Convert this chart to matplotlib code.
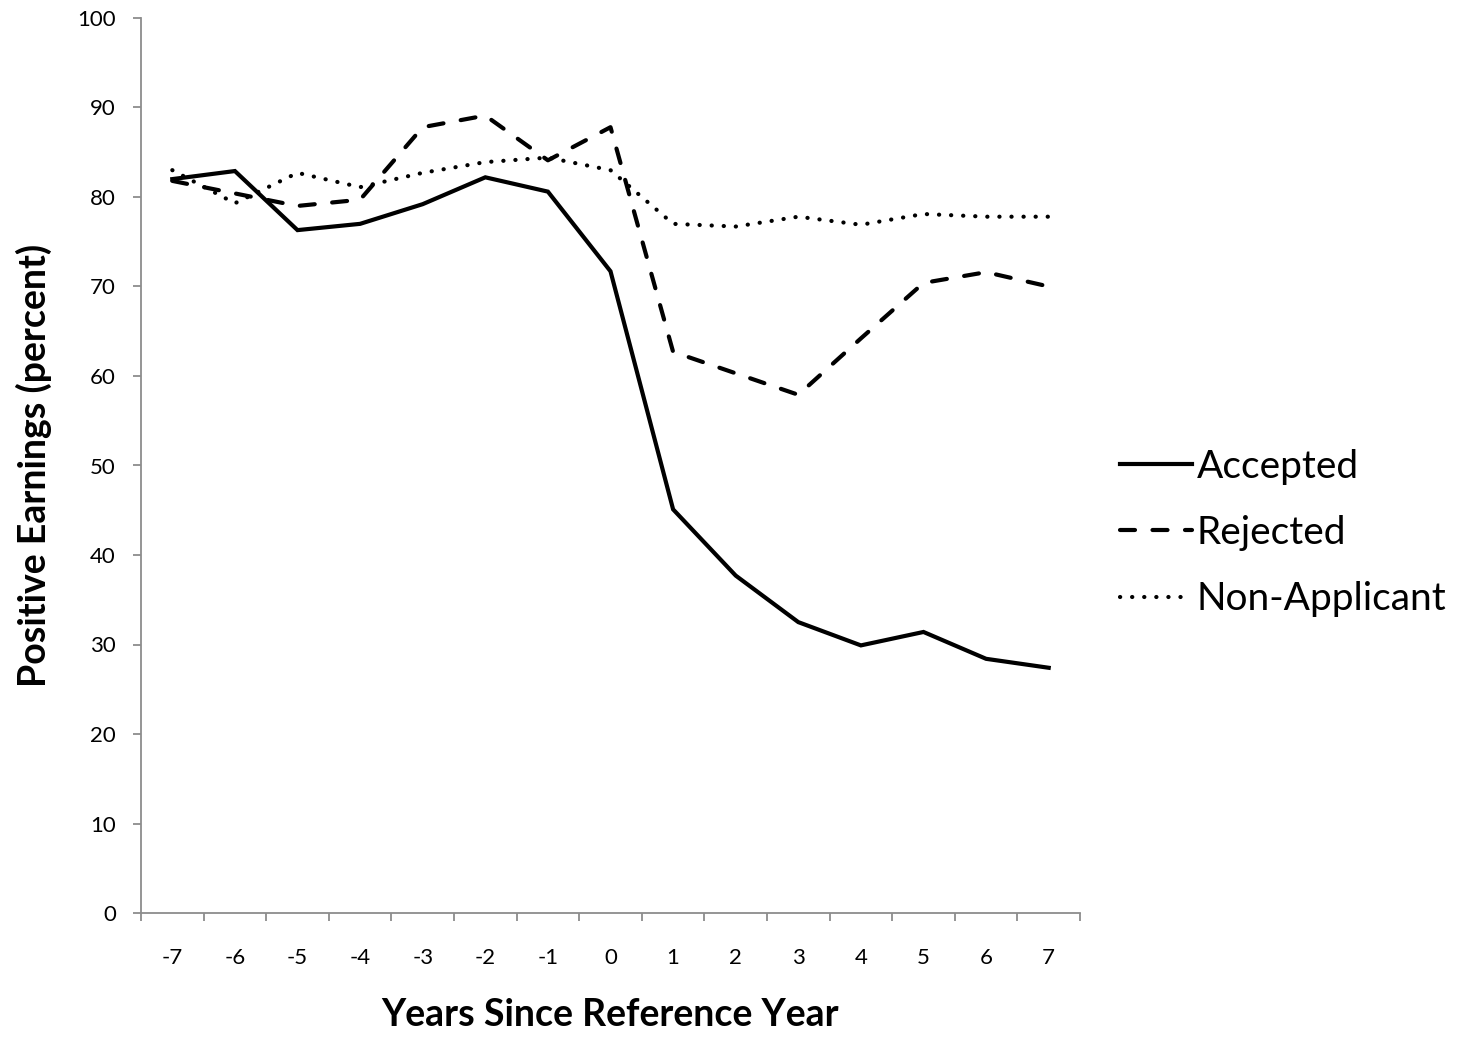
import matplotlib.pyplot as plt
import numpy as np

years = [-7, -6, -5, -4, -3, -2, -1, 0, 1, 2, 3, 4, 5, 6, 7]
accepted = [82.0, 82.9, 76.3, 77.0, 79.2, 82.2, 80.6, 71.7, 45.1, 37.7, 32.5, 29.9, 31.4, 28.4, 27.4]
rejected = [81.8, 80.4, 79.0, 79.7, 87.8, 89.1, 84.1, 87.8, 62.7, 60.3, 57.9, 64.2, 70.4, 71.6, 70.0]
non_applicant = [83.0, 79.3, 82.7, 81.1, 82.7, 83.9, 84.4, 83.0, 77.0, 76.7, 77.8, 76.9, 78.1, 77.8, 77.8]

plt.rcParams['font.family'] = ['Lato', 'DejaVu Sans']

fig = plt.figure(figsize=(14.63, 10.39), dpi=100)
ax = fig.add_axes([141 / 1463, 1 - 913 / 1039, (1080 - 141) / 1463, (913 - 18) / 1039])

x = np.arange(len(years))
ax.plot(x, accepted, color='black', lw=3, solid_joinstyle='miter', label='Accepted')
ax.plot(x, rejected, color='black', lw=3, linestyle=(0, (3.6, 4.2)),
        dash_capstyle='round', label='Rejected')
ax.plot(x, non_applicant, color='black', lw=3, linestyle=(0, (0.05, 2.85)),
        dash_capstyle='round', label='Non-Applicant')

ax.set_xlim(-0.5, len(years) - 0.5)
ax.set_ylim(0, 100)
ax.set_yticks(np.arange(0, 101, 10))
ax.set_xticks(x)
ax.set_xticklabels([str(y) for y in years])
ax.set_xticks(np.arange(-0.5, len(years), 1), minor=True)
ax.tick_params(axis='x', which='major', length=0, pad=25, labelsize=16)
ax.tick_params(axis='x', which='minor', length=6, color='#8c8c8c', width=1.3)
ax.tick_params(axis='y', length=6, color='#8c8c8c', width=1.3, labelsize=16, pad=12)

for side in ['top', 'right']:
    ax.spines[side].set_visible(False)
for side in ['left', 'bottom']:
    ax.spines[side].set_color('#8c8c8c')
    ax.spines[side].set_linewidth(1.3)

ax.set_xlabel('Years Since Reference Year', fontsize=27, fontweight='bold', labelpad=22)
ax.set_ylabel('Positive Earnings (percent)', fontsize=27, fontweight='bold', labelpad=18)

fig.legend(loc='center left', bbox_to_anchor=(1120 / 1463, 1 - 533 / 1039), frameon=False,
           fontsize=28, handlelength=1.85, handletextpad=0.12, labelspacing=0.78,
           borderpad=0, borderaxespad=0)

fig.savefig('out.png', dpi=100)
